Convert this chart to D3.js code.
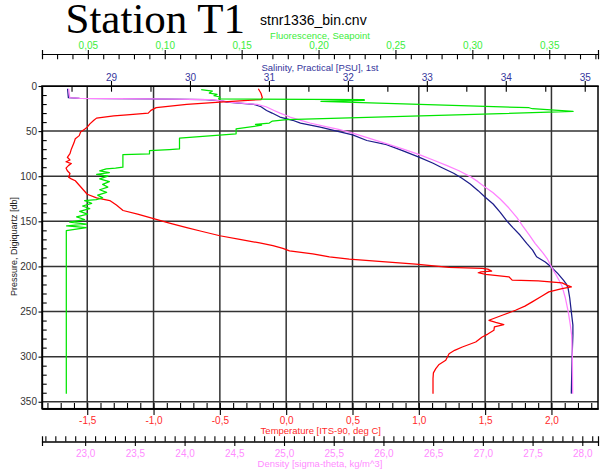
<!DOCTYPE html>
<html>
<head>
<meta charset="utf-8">
<script src="https://cdn.jsdelivr.net/npm/d3@7"></script>
<style>
  body { margin: 0; background: #fff; }
  svg text { font-family: "Liberation Sans", Arial, sans-serif; }
</style>
</head>
<body>
<script>
// CTD cast profile, station T1 (stnr1336_bin.cnv)
// Each profile is a list of [pressure (db), value] pairs.

const temperatureProfile = [
  [3,-0.21],[8,-0.19],[13,-0.18],[15,-0.19],[17.8,-0.50],[20.4,-0.75],[24,-0.98],[27,-1.02],
  [30,-1.04],[32,-1.20],[33,-1.30],[35.6,-1.43],[38,-1.45],[42,-1.48],[45.6,-1.50],[48,-1.52],
  [51,-1.55],[55,-1.56],[58.5,-1.59],[63,-1.60],[70,-1.62],[75,-1.63],[79,-1.65],[82,-1.63],
  [84,-1.66],[86,-1.62],[88,-1.64],[91,-1.66],[94,-1.65],[97,-1.63],[101,-1.64],[103,-1.62],
  [105,-1.59],[110,-1.56],[115,-1.53],[120,-1.50],[124,-1.43],[127,-1.33],[132,-1.28],[138,-1.23],
  [142,-1.12],[147,-1.00],[152,-0.88],[157,-0.75],[161,-0.64],[166,-0.50],[170,-0.35],[174,-0.20],
  [177,-0.10],[180,-0.025],[182.7,0.025],[186,0.20],[189.3,0.326],[192,0.476],[195,0.75],
  [197.4,0.977],[201,1.228],[202.2,1.478],[203,1.52],[205.2,1.549],[206,1.47],[207,1.448],
  [208.9,1.504],[211.5,1.679],[215.2,1.704],[216,1.90],[218.2,2.08],[221,2.12],[222.7,2.15],
  [224.5,2.08],[228.2,1.98],[232.7,1.929],[239.3,1.855],[244,1.80],[248.6,1.729],[254.1,1.629],
  [259.7,1.529],[262,1.58],[264.5,1.641],[267,1.57],[270.8,1.566],[275,1.52],[278.2,1.478],
  [283.8,1.429],[289.3,1.328],[293,1.27],[296.7,1.228],[304.1,1.203],[309,1.15],[313.3,1.128],
  [318,1.11],[324.4,1.107],[341,1.107]
];

const salinityProfile = [
  [3,28.45],[13,28.46],[13.8,28.6],[14.4,29.5],[15,30.2],[16.5,30.4],[17.8,30.47],[20.4,30.81],
  [23,30.9],[27.1,30.97],[30,31.04],[34.4,31.14],[38,31.3],[41.1,31.40],[45.6,31.65],[49.3,31.82],
  [54.1,32.06],[60.4,32.24],[64.9,32.49],[72,32.70],[78.9,32.90],[85.6,33.08],[90,33.18],
  [96.7,33.34],[102,33.44],[108.6,33.55],[116,33.65],[123.3,33.74],[130.8,33.84],[140,33.93],
  [149.3,34.01],[157,34.09],[165.2,34.18],[174.4,34.265],[182,34.34],[189.3,34.39],[195,34.50],
  [201,34.58],[208,34.66],[215.2,34.73],[220,34.77],[224.5,34.79],[235,34.81],[250.4,34.83],
  [265,34.85],[276.3,34.85],[300,34.84],[341,34.83]
];

const densityProfile = [
  [3,22.834],[13,22.845],[13.8,22.95],[14.4,23.7],[15,24.25],[16.5,24.38],[17.8,24.45],
  [20.4,24.73],[23,24.82],[27.1,24.90],[30,24.96],[34.4,25.06],[38.2,25.17],[41,25.26],
  [45,25.42],[48,25.55],[52.2,25.69],[58,25.86],[64.1,26.037],[70,26.2],[76,26.361],[82,26.50],
  [88.2,26.64],[94,26.76],[100.4,26.873],[106,26.95],[112.2,27.024],[118,27.10],[125.2,27.174],
  [135,27.26],[145.6,27.341],[155,27.40],[165.2,27.468],[174.4,27.525],[185.6,27.608],
  [192,27.65],[201,27.692],[210,27.74],[220.8,27.793],[235,27.83],[250.4,27.859],[265,27.88],
  [276.3,27.893],[300,27.90],[341,27.903]
];

const fluorescenceProfile = [
  [4,0.1237],[5.6,0.131],[7.8,0.129],[9.3,0.134],[10.8,0.132],[12.2,0.136],[14.4,0.135],
  [15,0.2297],[16,0.2297],[17.1,0.2016],[24.1,0.3369],[25.2,0.339],[28.2,0.3655],[37.4,0.1793],
  [38.9,0.170],[41.1,0.168],[42.6,0.159],[43.5,0.163],[47.4,0.1464],[53,0.1464],[57.8,0.1096],
  [69.7,0.1096],[70.5,0.103],[71.6,0.0901],[75.2,0.0901],[76,0.0728],[90,0.0728],[91,0.068],
  [91.9,0.062],[94,0.0577],[96,0.064],[98,0.0557],[100,0.063],[103,0.0577],[106,0.064],
  [109,0.0596],[112,0.063],[115,0.0577],[118,0.0622],[121,0.0564],[124,0.0596],[126,0.0555],
  [127,0.0479],[130,0.0525],[133,0.0466],[136,0.0512],[139,0.0447],[142,0.0499],[145,0.0427],
  [148,0.0479],[151,0.0382],[153,0.0492],[155,0.0362],[157,0.049],[160.4,0.036],[341,0.036]
];

// Axis tick values
const pressureTicks = [0, 50, 100, 150, 200, 250, 300, 350];
const temperatureTicks = [-1.5, -1.0, -0.5, 0.0, 0.5, 1.0, 1.5, 2.0];
const salinityTicks = [29, 30, 31, 32, 33, 34, 35];
const fluorescenceTicks = [0.05, 0.10, 0.15, 0.20, 0.25, 0.30, 0.35];
const densityTicks = [23.0, 23.5, 24.0, 24.5, 25.0, 25.5, 26.0, 26.5, 27.0, 27.5, 28.0];

const colors = {
  temperature: "#ff0000",
  temperatureText: "#ff2a2a",
  salinity: "#1c1c8a",
  salinityText: "#35359c",
  density: "#ff80ff",
  densityText: "#ff8cff",
  fluorescence: "#00e600",
  fluorescenceText: "#3ced3c"
};

const W = 601, H = 474;
const frame = { left: 42, right: 598, top: 86, bottom: 408.7 };

const svg = d3.select("body").append("svg")
  .attr("width", W).attr("height", H);

const y  = d3.scaleLinear().domain([0, 357.7]).range([frame.top, frame.bottom]);
const xT = d3.scaleLinear().domain([-1.841, 2.351]).range([frame.left, frame.right]);
const xS = d3.scaleLinear().domain([28.126, 35.168]).range([frame.left, frame.right]);
const xF = d3.scaleLinear().domain([0.0202, 0.3817]).range([frame.left, frame.right]);
const xD = d3.scaleLinear().domain([22.566, 28.158]).range([frame.left, frame.right]);

const comma = digits => v => v.toFixed(digits).replace(".", ",");
const steps = (a, b, s) => d3.range(Math.round((b - a) / s) + 1).map(i => +(a + i * s).toFixed(4));

function drawAxis(gen, tx, ty, textColor, fontSize) {
  const g = svg.append("g")
    .attr("transform", `translate(${tx},${ty})`)
    .call(gen);
  g.selectAll("path.domain").attr("stroke", "#000").attr("stroke-width", 1.2);
  g.selectAll(".tick line").attr("stroke", "#000").attr("stroke-width", 1.1);
  g.selectAll("text").attr("fill", textColor).style("font-size", fontSize + "px");
  return g;
}

// grid lines
const grid = svg.append("g").attr("stroke", "#333").attr("stroke-width", 1.5);
grid.selectAll("line.h").data(pressureTicks.filter(p => p > 0)).join("line")
  .attr("x1", frame.left).attr("x2", frame.right)
  .attr("y1", d => y(d)).attr("y2", d => y(d));
grid.selectAll("line.v").data(temperatureTicks).join("line")
  .attr("y1", frame.top).attr("y2", frame.bottom)
  .attr("x1", d => xT(d)).attr("x2", d => xT(d));

// profile lines
const profiles = [
  { data: salinityProfile, x: xS, color: colors.salinity },
  { data: densityProfile, x: xD, color: colors.density },
  { data: temperatureProfile, x: xT, color: colors.temperature },
  { data: fluorescenceProfile, x: xF, color: colors.fluorescence }
];
profiles.forEach(pr => {
  svg.append("path")
    .datum(pr.data)
    .attr("fill", "none")
    .attr("stroke", pr.color)
    .attr("stroke-width", 1.25)
    .attr("stroke-linejoin", "round")
    .attr("d", d3.line().x(d => pr.x(d[1])).y(d => y(d[0])));
});

// frame
svg.append("rect")
  .attr("x", frame.left).attr("y", frame.top)
  .attr("width", frame.right - frame.left).attr("height", frame.bottom - frame.top)
  .attr("fill", "none").attr("stroke", "#000").attr("stroke-width", 1.5);

// pressure axis (left)
drawAxis(d3.axisLeft(y).tickValues(pressureTicks).tickSize(3.5).tickPadding(1.5).tickSizeOuter(0),
  frame.left, 0, "#333", 10);
drawAxis(d3.axisRight(y).tickValues(steps(10, 350, 10).filter(v => v % 50 !== 0))
  .tickSize(4.7).tickFormat("").tickSizeOuter(0), frame.left, 0, "#333", 10);

// salinity axis (top of frame)
drawAxis(d3.axisTop(xS).tickValues(salinityTicks).tickSize(5).tickPadding(0.5)
  .tickSizeOuter(0).tickFormat(d3.format("d")), 0, frame.top, colors.salinityText, 10);
drawAxis(d3.axisBottom(xS).tickValues(steps(28.5, 35, 0.5)).tickSize(5.7)
  .tickFormat("").tickSizeOuter(0), 0, frame.top, colors.salinityText, 10);

// fluorescence axis (detached, above)
const yFl = 54;
drawAxis(d3.axisTop(xF).tickValues(fluorescenceTicks).tickSize(4).tickPadding(1)
  .tickSizeOuter(4).tickFormat(comma(2)), 0, yFl, colors.fluorescenceText, 10);
drawAxis(d3.axisBottom(xF).tickValues(steps(0.03, 0.38, 0.01)).tickSize(5.3)
  .tickSizeOuter(5.3).tickFormat(""), 0, yFl, colors.fluorescenceText, 10);

// temperature axis (bottom of frame)
drawAxis(d3.axisBottom(xT).tickValues(temperatureTicks).tickSize(6.3).tickPadding(1.5)
  .tickSizeOuter(0).tickFormat(comma(1)), 0, frame.bottom, colors.temperatureText, 10);
drawAxis(d3.axisTop(xT).tickValues(steps(-1.8, 2.3, 0.1)).tickSize(5.7)
  .tickSizeOuter(0).tickFormat(""), 0, frame.bottom, colors.temperatureText, 10);

// density axis (detached, below)
const yDen = 441.5;
drawAxis(d3.axisBottom(xD).tickValues(densityTicks).tickSize(4.5).tickPadding(4)
  .tickSizeOuter(4.5).tickFormat(comma(1)), 0, yDen, colors.densityText, 10);
drawAxis(d3.axisTop(xD).tickValues(steps(22.6, 28.1, 0.1)).tickSize(5.2)
  .tickSizeOuter(5.2).tickFormat(""), 0, yDen, colors.densityText, 10);

// titles
const cx = (frame.left + frame.right) / 2;
svg.append("text").attr("x", 65.5).attr("y", 32.7)
  .style("font-family", '"Liberation Serif", "Times New Roman", serif')
  .style("font-size", "43px").attr("fill", "#000").text("Station T1");
svg.append("text").attr("x", 260).attr("y", 25)
  .style("font-size", "14px").attr("fill", "#000").text("stnr1336_bin.cnv");
svg.append("text").attr("x", cx).attr("y", 39.3).attr("text-anchor", "middle")
  .style("font-size", "9.5px").attr("fill", colors.fluorescenceText).text("Fluorescence, Seapoint");
svg.append("text").attr("x", cx).attr("y", 71).attr("text-anchor", "middle")
  .style("font-size", "9.5px").attr("fill", colors.salinityText).text("Salinity, Practical [PSU], 1st");
svg.append("text").attr("x", cx + 0.8).attr("y", 434).attr("text-anchor", "middle")
  .style("font-size", "9.5px").attr("fill", colors.temperatureText).text("Temperature [ITS-90, deg C]");
svg.append("text").attr("x", cx).attr("y", 467).attr("text-anchor", "middle")
  .style("font-size", "9.5px").attr("fill", colors.densityText).text("Density [sigma-theta, kg/m^3]");
svg.append("text")
  .attr("transform", `translate(17,246.5) rotate(-90)`)
  .attr("text-anchor", "middle")
  .style("font-size", "9px").attr("fill", "#222").text("Pressure, Digiquartz [db]");
</script>
</body>
</html>
